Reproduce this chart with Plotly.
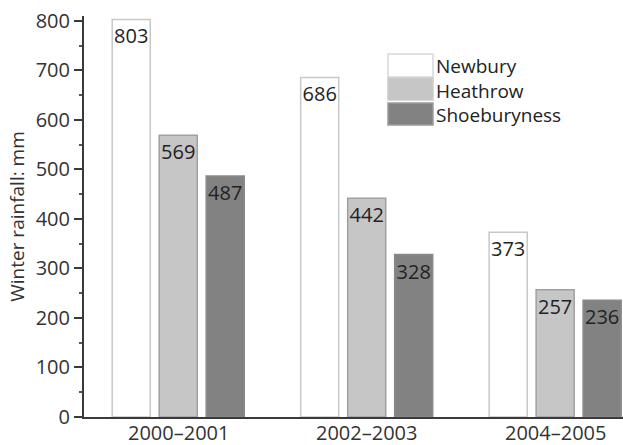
import plotly.graph_objects as go

periods = ["2000–2001", "2002–2003", "2004–2005"]
series_names = ["Newbury", "Heathrow", "Shoeburyness"]
newbury = [803, 686, 373]
heathrow = [569, 442, 257]
shoeburyness = [487, 328, 236]
values = [newbury, heathrow, shoeburyness]

fills = ["#ffffff", "#c6c6c6", "#828282"]
edges = ["#c8c8c8", "#a0a0a0", "#8a8a8a"]
leg_edges = ["#d8d8d8", "#cccccc", "#9a9a9a"]

FONT = "Open Sans"
fig = go.Figure()
for name, vals, fc, ec in zip(series_names, values, fills, edges):
    fig.add_trace(go.Bar(
        x=periods, y=vals, name=name,
        marker=dict(color=fc, line=dict(color=ec, width=1.5)),
        text=[str(v) for v in vals], textposition="inside", textangle=0,
        insidetextanchor="end", constraintext="none",
        textfont=dict(family=FONT, size=20, color="#222222"),
        cliponaxis=False, showlegend=False,
    ))

# manual legend (pixel layout converted to paper coords)
L, T, W, H = 84, 16, 539, 401
def px(x): return (x - L) / W
def py(y): return (T + H - y) / H

boxes = [(54, 77), (78, 100), (103, 125)]
for (y0, y1), fc, ec in zip(boxes, fills, leg_edges):
    fig.add_shape(type="rect", xref="paper", yref="paper",
                  x0=px(388), x1=px(433), y0=py(y1), y1=py(y0),
                  fillcolor=fc, line=dict(color=ec, width=1.5))
fig.add_annotation(xref="paper", yref="paper", x=px(434), y=py(90),
                   text="<br>".join(series_names), showarrow=False, align="left",
                   xanchor="left", yanchor="middle",
                   font=dict(family=FONT, size=19, color="#222222"))

# category labels placed on the x axis scale, tucked close to the axis line
for p in periods:
    fig.add_annotation(xref="x", yref="paper", x=p, y=0, text=p, showarrow=False,
                       xanchor="center", yanchor="top", yshift=-1, borderpad=0,
                       font=dict(family=FONT, size=20, color="#333333"))

fig.update_layout(
    width=623, height=445,
    margin=dict(l=L, r=0, t=T, b=445 - T - H),
    barmode="group", bargap=0.252, bargroupgap=0.19,
    plot_bgcolor="white", paper_bgcolor="white",
    font=dict(family=FONT, size=20, color="#333333"),
    xaxis=dict(range=[-0.5, 2.36], showline=True, linecolor="#3a3a3a", linewidth=2,
               ticks="", showgrid=False, zeroline=False, automargin=False,
               showticklabels=False),
    yaxis=dict(range=[0, 810], showline=True, linecolor="#3a3a3a", linewidth=2,
               ticks="outside", ticklen=8, tickwidth=1.5, tickcolor="#3a3a3a",
               dtick=100, tick0=0, showgrid=False, zeroline=False, automargin=False,
               minor=dict(ticks="outside", ticklen=3, tickwidth=1.5, tickcolor="#555555", dtick=50),
               tickfont=dict(family=FONT, size=20, color="#333333"),
               title=dict(text="Winter rainfall: mm", standoff=6,
                          font=dict(family=FONT, size=19, color="#333333"))),
)

fig.write_html("out.html")
